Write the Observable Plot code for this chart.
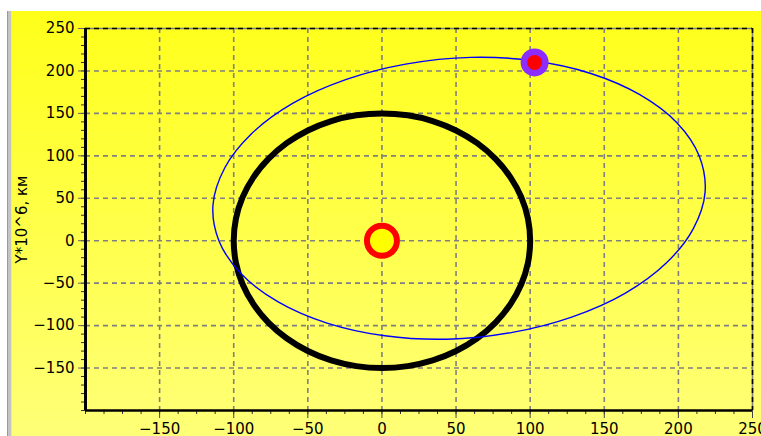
<!DOCTYPE html>
<html><head><meta charset="utf-8">
<script src="https://cdn.jsdelivr.net/npm/d3@7"></script>
<script src="https://cdn.jsdelivr.net/npm/@observablehq/plot@0.6"></script>
<style>
html,body{margin:0;padding:0;background:#fff;width:761px;height:436px;overflow:hidden;}
#bar{position:absolute;left:7px;top:11px;width:3px;height:425px;background:#c4c4c4;border-left:1px solid #9a9a9a;border-right:1px solid #e0e0e0;}
#bg{position:absolute;left:12px;top:11px;width:749px;height:425px;background:linear-gradient(#ffff1a,#ffff78);}
#chart{position:absolute;left:0;top:0;}
</style></head><body>
<div id="bar"></div><div id="bg"></div><div id="chart"></div>
<script>
// Tick values
const xTicks = [-150, -100, -50, 0, 50, 100, 150, 200, 250];
const yTicks = [-150, -100, -50, 0, 50, 100, 150, 200, 250];
const xGrid = [-150, -100, -50, 0, 50, 100, 150, 200];
const yGrid = [-150, -100, -50, 0, 50, 100, 150, 200];
const xMinor = d3.range(-200, 250.1, 12.5);
const yMinor = d3.range(-200, 250.1, 10);

// Earth orbit (black)
const earthX = [100, 98.5, 94, 86.6, 76.6, 64.3, 50, 34.2, 17.4, 0, -17.4, -34.2, -50, -64.3, -76.6, -86.6, -94, -98.5,
                -100, -98.5, -94, -86.6, -76.6, -64.3, -50, -34.2, -17.4, 0, 17.4, 34.2, 50, 64.3, 76.6, 86.6, 94, 98.5];
const earthY = [0, 26, 51.3, 75, 96.4, 114.9, 129.9, 141, 147.7, 150, 147.7, 141, 129.9, 114.9, 96.4, 75, 51.3, 26,
                0, -26, -51.3, -75, -96.4, -114.9, -129.9, -141, -147.7, -150, -147.7, -141, -129.9, -114.9, -96.4, -75, -51.3, -26];

// Transfer orbit (blue)
const orbitX = [174, 141, 102, 60, 16, -24, -60, -88, -106, -114, -110, -95, -70, -37, 2, 44, 88, 128, 164, 192, 210, 218, 214, 199];
const orbitY = [172, 197, 212, 216, 208, 190, 162, 126, 86, 42, 0, -39, -72, -97, -112, -116, -108, -90, -62, -26, 14, 57, 100, 139];

const sunPos = [0, 0];
const planetPos = [103, 210];
const yLabel = "Y*10^6, км";

const earth = earthX.map((x, i) => ({x, y: earthY[i]}));
const orbit = orbitX.map((x, i) => ({x, y: orbitY[i]}));
const sun = [{x: sunPos[0], y: sunPos[1]}];
const planet = [{x: planetPos[0], y: planetPos[1]}];

const plot = Plot.plot({
  width: 761, height: 436,
  marginLeft: 85, marginRight: 9, marginTop: 28, marginBottom: 26,
  x: {domain: [-200, 250]},
  y: {domain: [-200, 250]},
  style: {background: "transparent", fontFamily: "'DejaVu Sans', sans-serif", fontSize: "15px", color: "#000", overflow: "visible"},
  marks: [
    Plot.gridX(xGrid, {stroke: "#808080", strokeOpacity: 1, strokeWidth: 1.6, strokeDasharray: "5,4"}),
    Plot.gridY(yGrid, {stroke: "#808080", strokeOpacity: 1, strokeWidth: 1.6, strokeDasharray: "5,4"}),
    Plot.ruleY([250], {stroke: "#808080", strokeWidth: 1.6}),
    Plot.ruleY([250], {stroke: "#000", strokeWidth: 1.6, strokeDasharray: "5,4"}),
    Plot.ruleX([250], {stroke: "#808080", strokeWidth: 1.6}),
    Plot.ruleX([250], {stroke: "#000", strokeWidth: 1.6, strokeDasharray: "5,4"}),
    Plot.line(earth, {x: "x", y: "y", curve: "catmull-rom-closed", stroke: "#000", strokeWidth: 6}),
    Plot.line(orbit, {x: "x", y: "y", curve: "catmull-rom-closed", stroke: "#0000ff", strokeWidth: 1.4}),
    Plot.dot(sun, {x: "x", y: "y", r: 15, fill: "#ffff00", stroke: "#ff0000", strokeWidth: 6}),
    Plot.dot(planet, {x: "x", y: "y", r: 14, fill: "#8c2cff"}),
    Plot.dot(planet, {x: "x", y: "y", r: 7.5, fill: "#ff0000"}),
    Plot.axisY(yMinor, {tickSize: 4, stroke: "#333", tickFormat: () => "", label: null}),
    Plot.axisY(yTicks, {tickSize: 7, tickPadding: 4, stroke: "#666", fontSize: 15, label: yLabel, labelAnchor: "center", labelArrow: "none", labelOffset: 69}),
    Plot.axisX(xMinor, {tickSize: 4, stroke: "#333", tickFormat: () => "", label: null}),
    Plot.axisX(xTicks, {tickSize: 8, tickPadding: 5, stroke: "#444", fontSize: 15, label: null}),
    Plot.ruleX([-200], {stroke: "#000", strokeWidth: 3}),
    Plot.ruleY([-200], {stroke: "#000", strokeWidth: 2.5})
  ]
});
document.getElementById("chart").appendChild(plot);
</script>
</body></html>
